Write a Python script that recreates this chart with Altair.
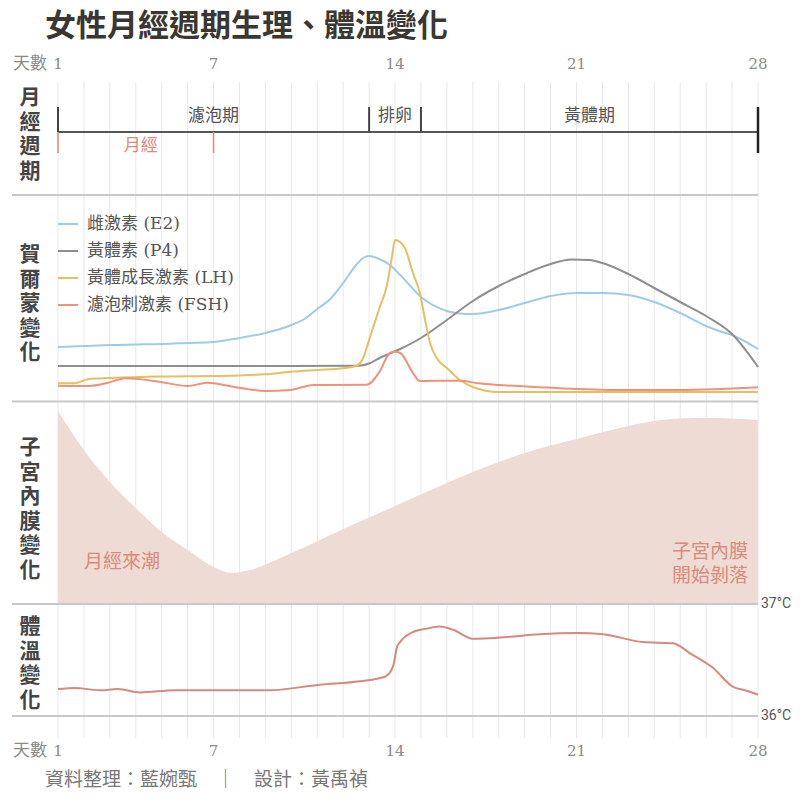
import altair as alt
import pandas as pd

# ---------------- data ----------------
DAYS = list(range(1, 29))
TICK_DAYS = [1, 7, 14, 21, 28]
TICK_TEXT = ["1", "7", "14", "21", "28"]

PHASE_NAMES = ["濾泡期", "排卵", "黃體期"]
PHASE_START = [1, 13, 15]
PHASE_END = [13, 15, 28]
MENSES_NAME = "月經"
MENSES_START = 1
MENSES_END = 7

SERIES = ["雌激素 (E2)", "黃體素 (P4)", "黃體成長激素 (LH)", "濾泡刺激素 (FSH)"]
SERIES_COLORS = ["#9ecbe8", "#8e8e8e", "#e4bf63", "#f0917b"]

E2_DAY = [1, 2, 3, 4, 5, 6, 7, 8, 9, 10, 10.5, 11, 11.5, 12, 12.5, 12.8, 13, 13.4, 13.8, 14.2,
          15, 16, 16.5, 17, 18, 19, 20, 20.5, 21, 22, 23, 24, 25, 26, 26.5, 27, 28]
E2_VAL = [54, 55, 56, 56.5, 57, 58, 59, 63, 68, 76, 82, 92, 102, 118, 136, 143.5, 145, 142, 136, 126,
          104, 90, 87.5, 87, 91, 98, 105, 107, 108, 108, 106, 99, 88, 75, 70, 66, 52]

P4_DAY = [1, 4, 7, 10, 12.6, 13, 13.4, 14.2, 15, 16, 17, 18, 19, 20, 20.8, 21.5, 22, 23, 24,
          25, 26, 27, 28]
P4_VAL = [35, 35, 35, 35, 35.3, 37.5, 43, 52, 63, 81, 100, 115, 127, 137, 141.5, 141, 138, 127, 113,
          99, 85, 67, 34]

LH_DAY = [1, 1.6, 2.2, 3, 5, 7, 8, 9, 10, 11, 12, 12.5, 12.77, 13, 13.4, 13.69, 13.88, 14, 14.19, 14.38,
          14.69, 14.96, 15.16, 15.35, 15.66, 16, 16.5, 17, 18, 28]
LH_VAL = [17.7, 17.7, 22, 23, 24.5, 25, 25.5, 26.7, 29.3, 31, 32.7, 35, 43, 61, 93, 116, 144, 161, 159, 153,
          128, 108, 81, 58, 41, 33, 21, 14, 9, 9]

FSH_DAY = [1, 2.2, 2.9, 3.6, 4.9, 6.0, 6.75, 7.75, 9, 9.95, 10.85, 12.9, 13.4, 13.8, 14.0, 14.2, 14.7,
           14.96, 16.5, 17.2, 18, 19.2, 21.1, 22.4, 25, 26.3, 28]
FSH_VAL = [15.3, 15, 18, 22.7, 19.3, 15, 18.3, 14.3, 10, 11, 16, 16.3, 29, 48, 49.3, 48, 27.7,
           20, 20.3, 17.7, 16, 14.3, 12, 11, 11, 11.7, 13.7]

ENDO_DAY = [1, 2, 3, 4, 5, 6, 7, 7.7, 8.4, 10, 12, 14, 16, 18, 19, 21, 23, 24, 25, 26.3, 28]
ENDO_VAL = [193, 154, 122, 96, 72, 54, 37, 31, 34, 51, 75, 98, 121, 142, 151, 165, 178, 183, 185.5,
            186, 184]

TEMP_DAY = [1, 1.66, 2.62, 3.31, 4.16, 5.51, 9.18, 11.1, 12.65, 13.61, 13.92, 14.08, 14.19, 14.69, 15.23,
            15.73, 16.24, 17.0, 18.05, 19.59, 21.02, 22.02, 23.56, 24.72, 25.38, 26.26, 27.04, 27.5, 28]
TEMP_VAL = [36.24, 36.25, 36.23, 36.24, 36.21, 36.23, 36.23, 36.28, 36.31, 36.35, 36.44, 36.62, 36.66,
            36.75, 36.78, 36.80, 36.77, 36.69, 36.70, 36.73, 36.74, 36.73, 36.66, 36.65, 36.56, 36.43,
            36.26, 36.23, 36.19]
TEMP_REF = [37, 36]
TEMP_REF_TEXT = ["37°C", "36°C"]

TITLE = "女性月經週期生理、體溫變化"
FOOTER = "資料整理：藍婉甄　｜　設計：黃禹禎"
SIDE_LABELS = ["月經週期", "賀爾蒙變化", "子宮內膜變化", "體溫變化"]
MENSES_NOTE = "月經來潮"
SHED_NOTE = "子宮內膜\n開始剝落"

# ---------------- styling ----------------
CJK = "Noto Sans CJK TC"
NUM = "DejaVu Serif"
RED = "#d98a7a"
DARK = "#444444"
GRAY = "#8a8a8a"

XS = alt.Scale(domain=[1, 28], nice=False, zero=False)
HORM_Y = alt.Scale(domain=[0, 207], range=[321, 114], nice=False)
ENDO_Y = alt.Scale(domain=[0, 203], range=[524, 321], nice=False)
TEMP_Y = alt.Scale(domain=[36, 37], range=[636, 524], nice=False, zero=False)


def xf(field="day"):
    return alt.X(f"{field}:Q", scale=XS, axis=None)


one = pd.DataFrame({"k": [0]})


def note(text, x, y, size, color, align="left", weight="normal", font=CJK, lh=None):
    kw = dict(fontSize=size, color=color, align=align, baseline="middle", font=font, fontWeight=weight)
    if lh is not None:
        kw.update(lineBreak="\n", lineHeight=lh)
    return alt.Chart(pd.DataFrame({"t": [text]})).mark_text(**kw).encode(
        text="t:N", x=alt.value(x), y=alt.value(y))


layers = []

# vertical day grid
layers.append(alt.Chart(pd.DataFrame({"day": DAYS})).mark_rule(color="#e8e8e8", strokeWidth=1).encode(
    x=xf(), y=alt.value(2), y2=alt.value(658)))

# panel separators
for yv in [115, 321.5]:
    layers.append(alt.Chart(one).mark_rule(color="#c8c8c8", strokeWidth=2).encode(
        x=alt.value(-46), x2=alt.value(700), y=alt.value(yv)))

# endometrium area
endo_df = pd.DataFrame({"day": ENDO_DAY, "thick": ENDO_VAL})
layers.append(alt.Chart(endo_df).mark_area(color="#eedbd4", interpolate="monotone").encode(
    x=xf(), y=alt.Y("thick:Q", scale=ENDO_Y, axis=None)))

# temperature reference lines + labels
ref_df = pd.DataFrame({"t": TEMP_REF, "lab": TEMP_REF_TEXT})
layers.append(alt.Chart(ref_df).mark_rule(color="#c8c8c8", strokeWidth=2).encode(
    x=alt.value(-46), x2=alt.value(700), y=alt.Y("t:Q", scale=TEMP_Y, axis=None)))
layers.append(alt.Chart(ref_df).mark_text(align="left", baseline="middle", fontSize=14, color="#555555",
                                          font="Roboto").encode(
    x=alt.value(703), y=alt.Y("t:Q", scale=TEMP_Y, axis=None), text="lab:N"))

# temperature line
temp_df = pd.DataFrame({"day": TEMP_DAY, "temp": TEMP_VAL})
layers.append(alt.Chart(temp_df).mark_line(color="#d58a7a", strokeWidth=2, interpolate="monotone").encode(
    x=xf(), y=alt.Y("temp:Q", scale=TEMP_Y, axis=None)))

# hormones
rows = []
for name, ds, vs in zip(SERIES, [E2_DAY, P4_DAY, LH_DAY, FSH_DAY], [E2_VAL, P4_VAL, LH_VAL, FSH_VAL]):
    rows += [{"series": name, "day": d, "level": v} for d, v in zip(ds, vs)]
horm_df = pd.DataFrame(rows)
layers.append(alt.Chart(horm_df).mark_line(strokeWidth=2, interpolate="monotone").encode(
    x=xf(),
    y=alt.Y("level:Q", scale=HORM_Y, axis=None),
    color=alt.Color("series:N", scale=alt.Scale(domain=SERIES, range=SERIES_COLORS),
                    legend=alt.Legend(title=None, orient="none", legendX=-1, legendY=133,
                                      symbolType="stroke", symbolSize=400, symbolStrokeWidth=2,
                                      labelFontSize=17, labelColor="#555555", labelFont=NUM + ", " + CJK,
                                      labelOffset=8, rowPadding=8, labelLimit=400, padding=0,
                                      direction="vertical")),
))

# cycle phases bracket
cyc_df = pd.DataFrame({"s": [PHASE_START[0]], "e": [PHASE_END[-1]]})
layers.append(alt.Chart(cyc_df).mark_rule(color="#555555", strokeWidth=2).encode(
    x=xf("s"), x2="e:Q", y=alt.value(52)))
bound_df = pd.DataFrame({"day": PHASE_START})
layers.append(alt.Chart(bound_df).mark_rule(color="#444444", strokeWidth=2).encode(
    x=xf(), y=alt.value(27), y2=alt.value(52)))
layers.append(alt.Chart(pd.DataFrame({"day": [PHASE_END[-1]]})).mark_rule(color="#222222", strokeWidth=2.5).encode(
    x=xf(), y=alt.value(27), y2=alt.value(73)))
phase_df = pd.DataFrame({"name": PHASE_NAMES, "s": PHASE_START, "e": PHASE_END})
phase_df["mid"] = (phase_df["s"] + phase_df["e"]) / 2
layers.append(alt.Chart(phase_df).mark_text(fontSize=17, color="#555555", font=CJK, baseline="middle").encode(
    x=xf("mid"), y=alt.value(36), text="name:N"))
men_df = pd.DataFrame({"day": [MENSES_START, MENSES_END]})
layers.append(alt.Chart(men_df).mark_rule(color=RED, strokeWidth=1.5).encode(
    x=xf(), y=alt.value(52), y2=alt.value(73)))
men_lab = pd.DataFrame({"name": [MENSES_NAME], "mid": [(MENSES_START + MENSES_END) / 2]})
layers.append(alt.Chart(men_lab).mark_text(fontSize=17, color=RED, font=CJK, baseline="middle", dx=5).encode(
    x=xf("mid"), y=alt.value(66), text="name:N"))

# day tick labels (top & bottom)
tick_df = pd.DataFrame({"day": TICK_DAYS, "lab": TICK_TEXT})
for yv in [-16, 671]:
    layers.append(alt.Chart(tick_df).mark_text(fontSize=15, color=GRAY, font=NUM, baseline="middle").encode(
        x=xf(), y=alt.value(yv), text="lab:N"))
    layers.append(note("天數", -11, yv, 17, GRAY, align="right"))

# side labels (y = centre of first character)
for text, yc in zip(SIDE_LABELS, [18, 175, 368, 547]):
    layers.append(note("\n".join(text), -28, yc, 21, DARK, align="center", weight="bold", lh=24.5))

# annotations
layers.append(note(MENSES_NOTE, 26, 482, 19, RED))
layers.append(note(SHED_NOTE, 690, 472, 19, RED, align="right", lh=24))

# title & footer
layers.append(note(TITLE, -13, -53, 31, "#3a3632", weight="bold"))
layers.append(note(FOOTER, -13, 700, 19, "#777777"))

chart = alt.layer(*layers).resolve_scale(y="independent").properties(
    width=700, height=660,
    autosize=alt.AutoSizeParams(type="none"),
    padding={"left": 50, "top": 72, "right": 34, "bottom": 52},
).configure_view(stroke=None)

chart.save("out.html", embed_options={"renderer": "svg", "actions": False})
